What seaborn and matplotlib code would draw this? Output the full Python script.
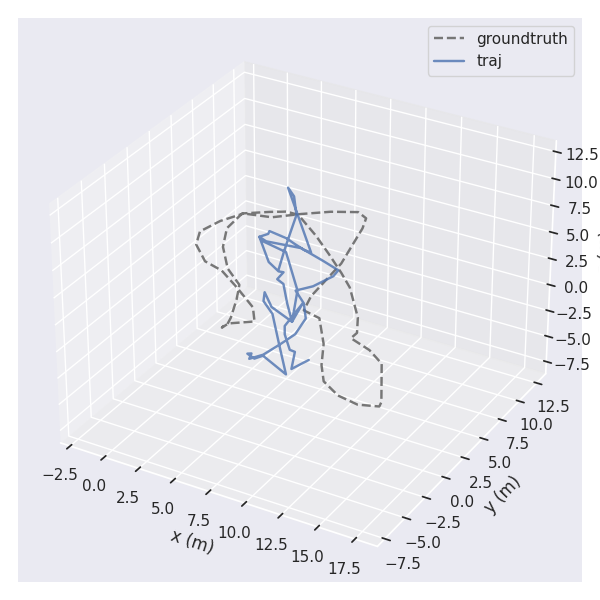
import matplotlib
matplotlib.use("Agg")
from matplotlib import pyplot as plt
import seaborn as sns

# trajectories in metres
gt_x = [5.61, 5.63, 5.71, 5.90, 6.95, 6.00, 3.94, 2.01, 0.50, -1.11, -1.80, -1.40, -0.61, 0.72, 1.63, 2.50, 4.84,
        6.74, 8.59, 9.91, 12.10, 12.94, 12.93, 14.55, 15.92, 17.95, 18.08, 16.90, 15.44, 13.95, 12.94, 11.85,
        10.13, 8.85, 8.38, 7.98, 6.92, 6.47, 5.63, 4.08, 2.60, 1.19, -0.71, -0.54, 0.50, 2.20, 3.87, 4.66, 5.49, 5.78]
gt_y = [-3.37, -3.64, -3.03, -2.87, -2.04, -0.64, 0.92, 2.27, 2.75, 4.30, 5.87, 7.69, 9.32, 10.31, 10.88, 10.87, 9.05,
        7.38, 5.69, 4.39, 1.48, -0.13, -0.85, -1.50, -2.49, -6.22, -6.70, -7.15, -6.85, -5.91, -4.40, -2.24,
        0.25, 0.59, 2.29, 6.74, 11.36, 12.64, 13.11, 12.27, 11.07, 9.75, 9.26, 7.08, 4.89, 2.67, 1.30, -0.34, -2.39, -3.40]
gt_z = [2.5] * len(gt_x)

traj_x = [12.00, 11.63, 10.83, 10.45, 9.29, 8.79, 8.62, 8.37, 8.92, 6.96, 5.68, 6.17, 7.43, 9.62, 11.66, 9.42, 9.15,
          8.50, 8.70, 8.90, 9.37, 9.62, 9.82, 9.44, 8.43, 7.22, 7.88, 8.34, 8.24, 6.85, 4.84, 2.49, 1.82, 3.98,
          5.11, 5.43, 5.53, 6.16, 7.58, 8.92, 7.31, 4.28, 2.33, 1.82, 2.11, 1.99, 3.38, 4.16, 5.11, 5.67, 0.06,
          1.00, 2.40, 3.41, 4.16, 4.99]
traj_y = [-4.27, -5.66, -3.88, -3.83, -2.44, -1.59, -0.41, 1.29, -0.94, -0.04, 1.29, 0.33, -0.73, -3.65, -6.34, -5.20,
          -5.74, -5.46, -5.32, -5.91, -5.10, -3.65, -2.10, -0.19, 1.32, 2.41, 3.40, 5.11, 5.91, 6.46, 7.19, 6.85,
          7.14, 4.65, 3.94, 4.00, 3.06, 2.74, 0.78, -0.94, 2.48, 6.27, 6.75, 7.14, 7.75, 8.10, 7.84, 7.48, 7.08,
          7.00, 13.74, 12.90, 10.80, 8.14, 6.20, 4.15]
traj_z = [2.5] * len(traj_x)

ticks = [-7.5, -5.0, -2.5, 0.0, 2.5, 5.0, 7.5, 10.0, 12.5]
xticks = [-2.5, 0.0, 2.5, 5.0, 7.5, 10.0, 12.5, 15.0, 17.5]

sns.set_theme()
fig = plt.figure(figsize=(6, 6), dpi=100)
ax = fig.add_subplot(projection="3d")
ax.plot(gt_x, gt_y, gt_z, color="dimgray", ls="--", lw=1.75, alpha=0.9, label="groundtruth")
ax.plot(traj_x, traj_y, traj_z, color=sns.color_palette()[0], alpha=0.8, lw=1.75, label="traj")
ax.set_xlim(-3.2, 19.0)
ax.set_ylim(-8.4, 13.8)
ax.set_zlim(-8.7, 13.5)
ax.set_xticks(xticks)
ax.set_yticks(ticks)
ax.set_zticks(ticks)
ax.set_xlabel("x (m)")
ax.set_ylabel("y (m)")
ax.set_zlabel("z (m)")
ax.legend(loc="upper right", frameon=True)
fig.tight_layout()
fig.savefig("out.png")
